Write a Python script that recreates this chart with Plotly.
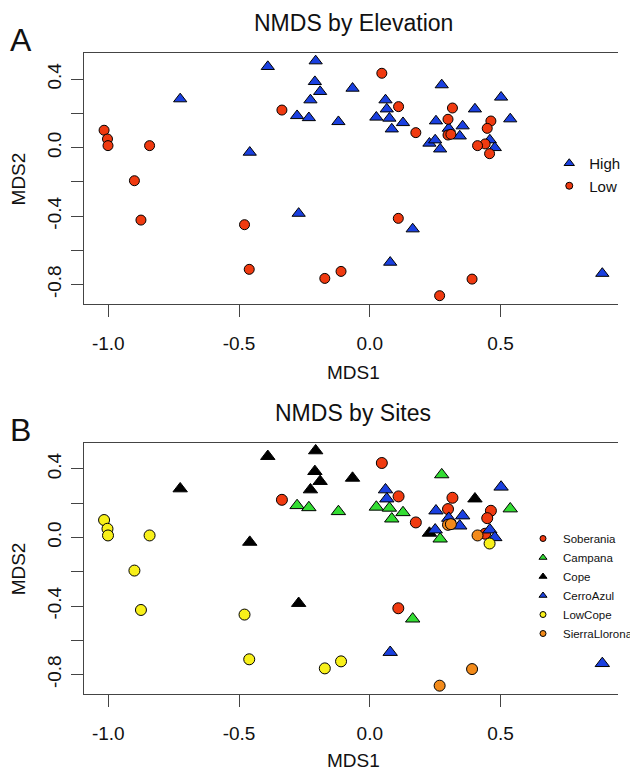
import plotly.graph_objects as go

# ---- data (NMDS scores) ----
soberania_mds1 = [-0.336, 0.046, 0.110, 0.176, 0.316, 0.299, 0.463, 0.449, 0.441, 0.109]
soberania_mds2 = [0.220, 0.435, 0.240, 0.088, 0.232, 0.166, 0.156, 0.113, 0.022, -0.413]

campana_mds1 = [-0.278, -0.233, -0.120, 0.025, 0.075, 0.127, 0.084, 0.275, 0.269, 0.537, 0.164]
campana_mds2 = [0.187, 0.175, 0.152, 0.178, 0.172, 0.146, 0.109, 0.367, -0.008, 0.168, -0.475]

cope_mds1 = [-0.725, -0.390, -0.207, -0.210, -0.190, -0.227, -0.459, -0.272, -0.066, 0.228, 0.402]
cope_mds2 = [0.285, 0.474, 0.507, 0.386, 0.328, 0.279, -0.027, -0.384, 0.347, 0.026, 0.226]

cerroazul_mds1 = [0.060, 0.065, 0.253, 0.250, 0.302, 0.355, 0.344, 0.502, 0.459, 0.478, 0.078, 0.889]
cerroazul_mds2 = [0.279, 0.226, 0.156, 0.045, 0.113, 0.127, 0.068, 0.295, 0.045, 0.000, -0.670, -0.735]

lowcope_mds1 = [-1.016, -1.003, -1.001, -0.842, -0.900, -0.875, -0.479, -0.461, -0.172, -0.110, 0.458]
lowcope_mds2 = [0.102, 0.051, 0.012, 0.012, -0.193, -0.423, -0.450, -0.711, -0.764, -0.723, -0.035]

sierrallorona_mds1 = [0.299, 0.310, 0.412, 0.391, 0.267]
sierrallorona_mds2 = [0.074, 0.078, 0.012, -0.768, -0.865]

site_names = ["Soberania", "Campana", "Cope", "CerroAzul", "LowCope", "SierraLlorona"]
site_elevation = ["Low", "High", "High", "High", "Low", "Low"]
site_colors = ["#f03a10", "#33dd33", "#000000", "#1a40e0", "#f8f01a", "#f28a1a"]

x_ticks = [-1.0, -0.5, 0.0, 0.5]
x_ticktext = ["-1.0", "-0.5", "0.0", "0.5"]
y_ticks = [-0.8, -0.6, -0.4, -0.2, 0.0, 0.2, 0.4]
y_ticktext = ["-0.8", "", "-0.4", "", "0.0", "", "0.4"]

# ---- build ----
site_x = [soberania_mds1, campana_mds1, cope_mds1, cerroazul_mds1, lowcope_mds1, sierrallorona_mds1]
site_y = [soberania_mds2, campana_mds2, cope_mds2, cerroazul_mds2, lowcope_mds2, sierrallorona_mds2]

# the page body keeps its default 8px margin, so the figure is drawn 8px in
OFF = 8
W, H = 638 - OFF, 770 - OFF
FONT = "Liberation Sans, Arial, sans-serif"
AX = "#444444"


def px(p):
    return (p - OFF) / W


def py(p):
    return 1 - (p - OFF) / H


fig = go.Figure()

symbol_of = {"High": "triangle-up", "Low": "circle"}
elev_color = {"High": "#1a40e0", "Low": "#f03a10"}

# Panel A: by elevation
for elev in ["High", "Low"]:
    xs, ys = [], []
    for i, e in enumerate(site_elevation):
        if e == elev:
            xs += site_x[i]
            ys += site_y[i]
    sym = symbol_of[elev]
    size = 11.5 if sym == "triangle-up" else 10
    fig.add_trace(go.Scatter(
        x=xs, y=ys, mode="markers", xaxis="x", yaxis="y", showlegend=False,
        marker=dict(symbol=sym, size=size, color=elev_color[elev],
                    line=dict(color="#000000", width=1)),
    ))
    fig.add_trace(go.Scatter(
        x=[None], y=[None], mode="markers", xaxis="x", yaxis="y", name=elev,
        legend="legend",
        marker=dict(symbol=sym, size=9 if sym == "triangle-up" else 7,
                    color=elev_color[elev], line=dict(color="#000000", width=1)),
    ))

# Panel B: by site
for i, name in enumerate(site_names):
    sym = symbol_of[site_elevation[i]]
    size = 12.5 if sym == "triangle-up" else 11
    fig.add_trace(go.Scatter(
        x=site_x[i], y=site_y[i], mode="markers", xaxis="x2", yaxis="y2", showlegend=False,
        marker=dict(symbol=sym, size=size, color=site_colors[i],
                    line=dict(color="#000000", width=1)),
    ))
    fig.add_trace(go.Scatter(
        x=[None], y=[None], mode="markers", xaxis="x2", yaxis="y2", name=name,
        legend="legend2",
        marker=dict(symbol=sym, size=7 if sym == "triangle-up" else 6,
                    color=site_colors[i], line=dict(color="#000000", width=1)),
    ))

xr = [-1.092, 0.949]
yr = [-0.9153, 0.5517]


def xax(anchor):
    return dict(domain=[px(86.7), 1], range=xr, anchor=anchor, tickvals=x_ticks, ticktext=x_ticktext,
                ticks="outside", ticklen=12, tickwidth=1, tickcolor=AX, ticklabelstandoff=10,
                showline=True, linecolor=AX, linewidth=1, mirror=True,
                showgrid=False, zeroline=False,
                tickfont=dict(family=FONT, size=19, color="#111111"))


def yax(anchor, dom):
    return dict(domain=dom, range=yr, anchor=anchor, tickvals=y_ticks, ticktext=y_ticktext,
                ticks="outside", ticklen=12, tickwidth=1, tickcolor=AX, tickangle=-90,
                ticklabelstandoff=3,
                showline=True, linecolor=AX, linewidth=1, mirror=False,
                showgrid=False, zeroline=False,
                tickfont=dict(family=FONT, size=19, color="#111111"))


domA = [py(304.3), py(53.3)]
domB = [py(694.3), py(443.0)]


def ann(text, xpx, ypx, size, angle=0):
    return dict(text=text, x=px(xpx), y=py(ypx), xref="paper", yref="paper",
                xanchor="center", yanchor="middle", showarrow=False, textangle=angle,
                borderpad=0,
                font=dict(family=FONT, size=size, color="#111111"))


annotations = [
    ann("NMDS by Elevation", 364.5, 23.4, 23),
    ann("NMDS by Sites", 364.5, 413.4, 23),
    ann("A", 21, 40.2, 32),
    ann("B", 21, 430.2, 32),
    ann("MDS1", 364.5, 372, 19),
    ann("MDS1", 364.5, 760, 19),
    ann("MDS2", 19, 178.8, 19, -90),
    ann("MDS2", 19, 568.7, 19, -90),
]

fig.update_layout(
    width=W, height=H,
    margin=dict(l=0, r=0, t=0, b=0),
    paper_bgcolor="white", plot_bgcolor="white",
    xaxis=xax("y"), yaxis=yax("x", domA),
    xaxis2=xax("y2"), yaxis2=yax("x2", domB),
    annotations=annotations,
    legend=dict(x=559 / W, y=1 - 139 / H, xanchor="left", yanchor="top",
                bgcolor="rgba(0,0,0,0)", font=dict(family=FONT, size=15, color="#111111")),
    legend2=dict(x=532 / W, y=1 - 516 / H, xanchor="left", yanchor="top",
                 bgcolor="rgba(0,0,0,0)", font=dict(family=FONT, size=11.5, color="#111111")),
    showlegend=True,
)

fig.write_html("out.html")
